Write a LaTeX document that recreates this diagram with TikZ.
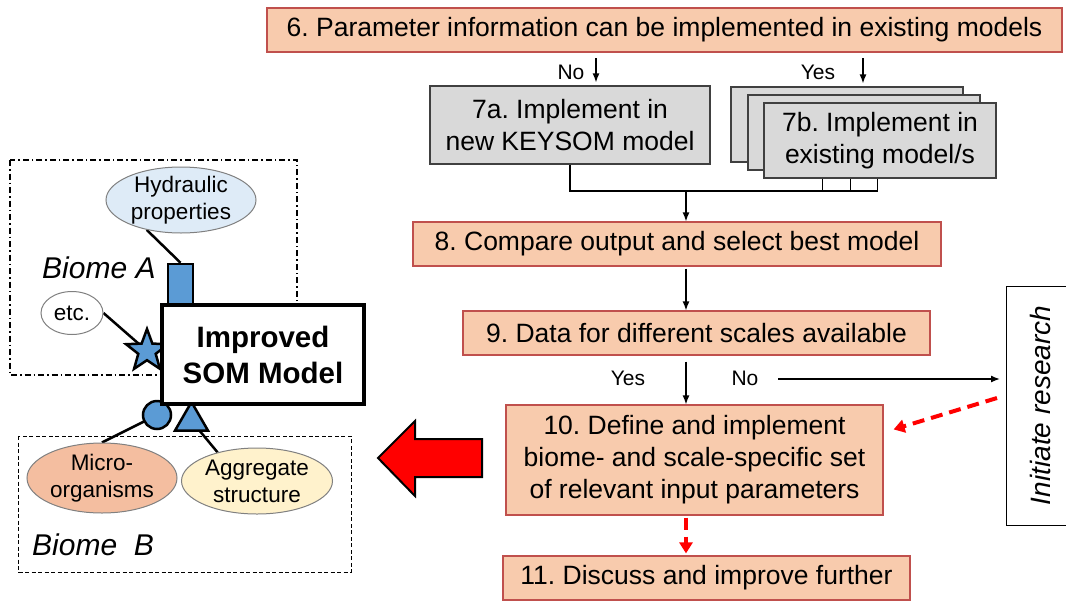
\documentclass[tikz,border=0pt]{standalone}
\usepackage{fontspec}
\setmainfont{Liberation Sans}
\usetikzlibrary{shapes.geometric,arrows.meta,calc}
\pgfdeclarelayer{bg}
\pgfsetlayers{bg,main}
\frenchspacing
\definecolor{pfill}{HTML}{F8CBAD}
\definecolor{pdraw}{HTML}{C0504D}
\definecolor{gfill}{HTML}{D9D9D9}
\definecolor{gdraw}{HTML}{404040}
\definecolor{hydfill}{HTML}{DEEBF7}
\definecolor{micfill}{HTML}{F4BEA0}
\definecolor{aggfill}{HTML}{FFF2CC}
\definecolor{ellborder}{HTML}{808080}
\definecolor{blueshape}{HTML}{5B9BD5}
\definecolor{rdred}{HTML}{FF0000}
\tikzset{
  boxtext/.style={font=\fontsize{26.5pt}{32pt}\selectfont},
  pbox/.style={boxtext, draw=pdraw, fill=pfill, line width=1.2pt, inner sep=0pt, align=center},
  gbox/.style={boxtext, draw=gdraw, fill=gfill, line width=1.2pt, inner sep=0pt, align=center},
  lbl/.style={font=\fontsize{21pt}{25pt}\selectfont, inner sep=0pt},
  ell/.style={ellipse, draw=ellborder, line width=1pt, inner xsep=0pt, inner ysep=-6pt, align=center, font=\fontsize{22.5pt}{27pt}\selectfont},
  conn/.style={line width=1.4pt, draw=black},
  arr/.style={conn, -{Latex[length=9pt,width=7pt]}},
  rdash/.style={draw=rdred, line width=4pt, dash pattern=on 12pt off 7pt, -{Triangle[length=11pt,width=13pt]}},
  bshape/.style={draw=black, fill=blueshape, line width=2.5pt, inner sep=0pt},
  lk/.style={line width=2.5pt, draw=black},
  biome/.style={font=\fontsize{30pt}{34pt}\selectfont\itshape, inner sep=0pt}
}
\begin{document}
\begin{tikzpicture}[x=1pt,y=-1pt]
\useasboundingbox (0,0) rectangle (1066,603);

% ---------- flow chart (right) ----------
\node[pbox, minimum width=795, minimum height=44] (b6) at (664.5,30) {6. Parameter information can be implemented in existing models};

\node[gbox, minimum width=280, minimum height=78] (a7) at (570,125) {7a. Implement in\\new KEYSOM model};
\node[gbox, minimum width=232, minimum height=75] (b7b) at (847,124.5) {};
\node[gbox, minimum width=232, minimum height=75] (b7m) at (864,132.5) {};
\node[gbox, minimum width=232, minimum height=75] (b7f) at (880,140.5) {7b. Implement in\\existing model/s};

\node[lbl] (no6) at (571,72) {No};
\node[lbl] (yes6) at (818,72) {Yes};
\coordinate (noS) at (596,58);
\coordinate (yesS) at (863,58);
\draw[arr, shorten >=3pt] (noS) -- (noS |- a7.north);
\draw[arr, shorten >=3pt] (yesS) -- (yesS |- b7b.north);

\node[pbox, minimum width=528, minimum height=44] (b8) at (677,244) {8. Compare output and select best model};
\node[pbox, minimum width=467, minimum height=44] (b9) at (696.5,333) {9. Data for different scales available};
\node[pbox, minimum width=377, minimum height=110] (b10) at (694.5,460) {10. Define and implement\\biome- and scale-specific set\\of relevant input parameters};
\node[pbox, minimum width=407, minimum height=44] (b11) at (706.5,578) {11. Discuss and improve further};

\node[draw=black, line width=1pt, rotate=90, minimum width=239, minimum height=67, inner sep=0pt,
      font=\fontsize{28pt}{32pt}\selectfont\itshape] (ir) at (1040,405.5) {Initiate research};

\coordinate (jn) at (686,191);
\coordinate (jr) at (878,191);
\draw[conn] (a7.south) |- (jr);
\foreach \dx in {59,87,114} \draw[conn] ($(b7f.south west)+(\dx,0)$) -- ++(0,13);
\draw[arr] (jn) -- (jn |- b8.north);
\draw[arr, shorten <=2pt] (jn |- b8.south) -- (jn |- b9.north);
\draw[arr, shorten <=6pt] (jn |- b9.south) -- (jn |- b10.north);
\node[lbl] (yes9) at (628,378) {Yes};
\node[lbl] (no9) at (745,378) {No};
\coordinate (nos) at (778,379);
\draw[arr, shorten >=6pt] (nos) -- (nos -| ir.north);

\coordinate (rs) at (997,398);
\draw[rdash] (rs) -- ($(b10.north east)+(10,25)$);
\draw[rdash, shorten <=2pt, shorten >=2pt] (jn |- b10.south) -- (jn |- b11.north);

% big red arrow
\draw[fill=rdred, draw=black, line width=2pt, line join=miter]
  (378,458) -- (415,421) -- (415,439) -- (482,439) -- (482,477) -- (415,477) -- (415,496) -- cycle;

% ---------- left side ----------
\draw[line width=1.3pt, dash pattern=on 6pt off 3pt on 1.5pt off 3pt] (10,160) rectangle (297,375);
\draw[line width=1pt, dash pattern=on 4pt off 2.5pt] (18,436) rectangle (351,572);

\node[biome, anchor=base west] (bA) at (42,278) {Biome A};
\node[biome, anchor=base west] (bB) at (32,555) {Biome\ \ B};

\node[ell, fill=hydfill, minimum width=150, minimum height=66] (hyd) at (181,200) {Hydraulic\\properties};
\node[ell, fill=white, minimum width=62, minimum height=43] (etc) at (72,313) {etc.};
\node[ell, fill=micfill, minimum width=150, minimum height=70] (mic) at (102,478) {Micro-\\organisms};
\node[ell, fill=aggfill, minimum width=151, minimum height=66] (agg) at (257,481) {Aggregate\\structure};

\node[bshape, rectangle, minimum width=25, minimum height=46] (sq) at (180.5,287) {};
\node[bshape, star, star points=5, star point ratio=2.4, minimum size=44] (st) at (147,351) {};
\node[bshape, circle, minimum size=28] (ci) at (157,415) {};
\node[bshape, regular polygon, regular polygon sides=3, minimum size=38] (tr) at (191.5,421) {};

\begin{pgfonlayer}{bg}
\draw[lk] (hyd.221) -- (sq.north);
\draw[lk] (etc.east) -- (st.center);
\draw[lk] (ci.center) -- (mic.north);
\draw[lk] (tr.center) -- (agg.144);
\end{pgfonlayer}

\node[draw=black, fill=white, line width=4.5pt, minimum width=202, minimum height=99, inner sep=0pt,
      align=center, font=\fontsize{29.5pt}{36pt}\selectfont\bfseries] (som) at (263,354.5) {Improved\\SOM Model};
\end{tikzpicture}
\end{document}
